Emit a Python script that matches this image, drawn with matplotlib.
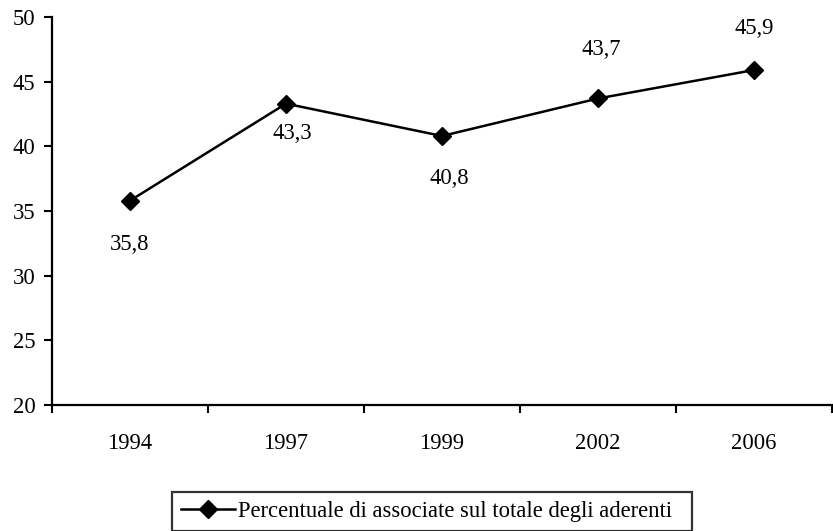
import matplotlib
matplotlib.use("Agg")
import matplotlib.pyplot as plt
from matplotlib.ticker import FixedLocator

plt.rcParams['font.family'] = ['Liberation Serif', 'DejaVu Serif']

years = ["1994", "1997", "1999", "2002", "2006"]
values = [35.8, 43.3, 40.8, 43.7, 45.9]
labels = ["35,8", "43,3", "40,8", "43,7", "45,9"]
label_offsets = [(0, -44), (6, -30), (7, -43), (3, 49), (0, 42)]
series_name = "Percentuale di associate sul totale degli aderenti"

W, H = 833, 531
FS = 16.3
fig = plt.figure(figsize=(W / 100, H / 100), dpi=100)
ax = fig.add_axes([52 / W, 1 - 405 / H, (832 - 52) / W, (405 - 17) / H])

x = list(range(len(years)))
ax.plot(x, values, color='black', lw=1.8, marker='D', markersize=9,
        markerfacecolor='black', markeredgecolor='black', label=series_name,
        clip_on=False)

for xi, v, lab, (dx, dy) in zip(x, values, labels, label_offsets):
    ax.annotate(lab, (xi, v), xytext=(dx * 0.72, dy * 0.72), textcoords='offset points',
                ha='center', va='center', fontsize=FS)

ax.set_xlim(-0.5, len(years) - 0.5)
ax.set_ylim(20, 50)
ax.set_yticks(range(20, 51, 5))
ax.xaxis.set_major_locator(FixedLocator([i - 0.5 for i in range(len(years) + 1)]))
ax.xaxis.set_minor_locator(FixedLocator(x))
ax.set_xticklabels([])
ax.set_xticklabels(years, minor=True)
ax.tick_params(axis='x', which='major', length=6, width=1.5, direction='out')
ax.tick_params(axis='x', which='minor', length=0, pad=20, labelsize=FS)
ax.tick_params(axis='y', length=6, width=1.5, direction='out', pad=6, labelsize=FS)

for s in ['top', 'right']:
    ax.spines[s].set_visible(False)
for s in ['left', 'bottom']:
    ax.spines[s].set_linewidth(1.6)

leg = fig.legend(loc='upper left',
                 bbox_to_anchor=(172 / W, 1 - 492 / H, (692 - 172) / W, 0),
                 mode='expand',
                 fontsize=FS, frameon=True, fancybox=False, handlelength=2.4,
                 borderpad=0.4, handletextpad=0.1, borderaxespad=0)
leg.get_frame().set_edgecolor('black')
leg.get_frame().set_linewidth(1.6)

fig.savefig("out.png", dpi=100)
